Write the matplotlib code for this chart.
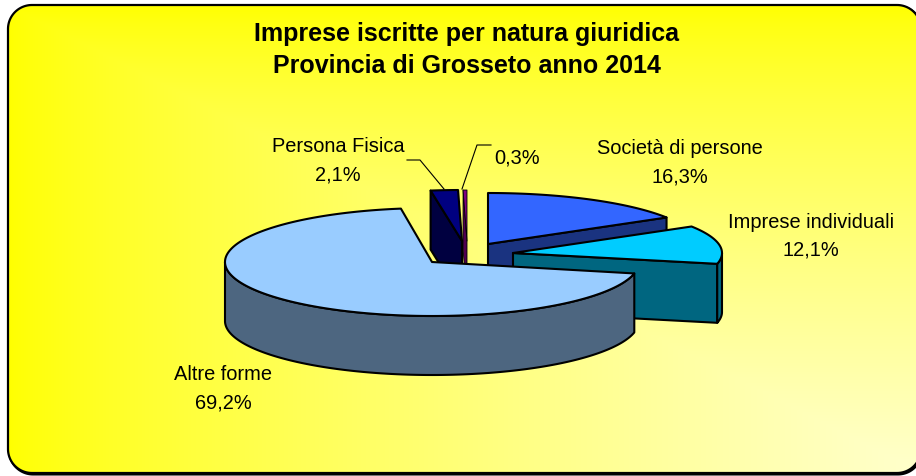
import numpy as np
import matplotlib
matplotlib.use('Agg')
import matplotlib.pyplot as plt
from matplotlib.patches import Polygon

plt.rcParams['font.family'] = ['Liberation Sans', 'DejaVu Sans']

# slices, clockwise from 12 o'clock
names = ['Società di persone', 'Imprese individuali', 'Altre forme', 'Persona Fisica', '']
shares = [16.3, 12.1, 69.2, 2.1, 0.3]
share_labels = ['16,3%', '12,1%', '69,2%', '2,1%', '0,3%']

top_colors = ['#3366FF', '#00CCFF', '#99CCFF', '#000080', '#800080']
side_colors = ['#1A3380', '#006680', '#4D6680', '#000040', '#500050']

# where each exploded slice sits, in pixels
apex_x = [488, 513, 432, 462, 467]
apex_y = [244, 253, 262, 241, 241]
radius_x = [209, 209, 207, 209, 209]
radius_y = [51, 51, 54, 51, 51]
edge_widths = [1.5, 1.5, 1.5, 1.5, 0.6]
depth = 59

label_x = [680, 811, 223, 338, 517]
label_y = [163, 236, 389, 161, 158]

fig = plt.figure(figsize=(9.16, 4.76), dpi=100)
ax = fig.add_axes([0, 0, 1, 1])
ax.set_xlim(0, 916)
ax.set_ylim(476, 0)
ax.axis('off')


def rounded(x0, y0, x1, y1, r):
    pts = []
    for cx, cy, a in ((x1 - r, y0 + r, 0), (x1 - r, y1 - r, 90), (x0 + r, y1 - r, 180), (x0 + r, y0 + r, 270)):
        b = np.radians(np.linspace(a, a + 90, 30))
        pts.append(np.c_[cx + r * np.sin(b), cy - r * np.cos(b)])
    return np.vstack(pts)


# background panel, gradient runs out from the top left corner
shadow = Polygon(rounded(9, 6, 922, 474.5, 24), closed=True, fc='black', ec='black', lw=1.5, zorder=2)
ax.add_patch(shadow)
frame = Polygon(rounded(8, 5, 921, 473, 24), closed=True, fc='none', ec='black', lw=1.6, zorder=4)
ax.add_patch(frame)
gx, gy = np.meshgrid(np.linspace(0, 1, 300), np.linspace(0, 1, 200))
t = np.minimum(gx, gy) ** 0.75
grad = np.dstack([np.ones_like(t), np.ones_like(t), 0.8 * t])
img = ax.imshow(grad, extent=(8, 921, 473, 5), aspect='auto', zorder=3)
img.set_clip_path(frame)
ax.set_xlim(0, 916)
ax.set_ylim(476, 0)


def rim(cx, cy, rx, ry, a0, a1, dy=0):
    a = np.radians(np.linspace(a0, a1, max(int(abs(a1 - a0)) * 2, 2)))
    return cx + rx * np.sin(a), cy - ry * np.cos(a) + dy


def fill(xs, ys, color, z, lw):
    ax.fill(xs, ys, fc=color, ec='black', lw=lw, joinstyle='round', zorder=z)


ends = np.cumsum(shares) * 3.6
starts = ends - np.array(shares) * 3.6

# back to front
for i in [4, 3, 0, 1, 2]:
    cx, cy, rx, ry = apex_x[i], apex_y[i], radius_x[i], radius_y[i]
    a0, a1 = starts[i], ends[i]
    z = 5 + [4, 3, 0, 1, 2].index(i)
    lw = edge_widths[i]
    # flat cut faces that look towards the viewer
    for a, show in ((a0, np.sin(np.radians(a0)) < 0), (a1, np.sin(np.radians(a1)) > 0)):
        if show:
            ex = cx + rx * np.sin(np.radians(a))
            ey = cy - ry * np.cos(np.radians(a))
            fill([cx, ex, ex, cx], [cy, ey, ey + depth, cy + depth], side_colors[i], z, lw)
    # outer wall, only where it faces front
    b0, b1 = max(a0, 90), min(a1, 270)
    if b1 > b0:
        x1, y1 = rim(cx, cy, rx, ry, b0, b1)
        x2, y2 = rim(cx, cy, rx, ry, b1, b0, depth)
        fill(np.r_[x1, x2], np.r_[y1, y2], side_colors[i], z, lw)
    x, y = rim(cx, cy, rx, ry, a0, a1)
    fill(np.r_[cx, x], np.r_[cy, y], top_colors[i], z, lw)

# leader lines
ax.plot([407, 420, 444], [160, 160, 189], color='black', lw=0.8, zorder=12)
ax.plot([491, 477, 462], [145, 145, 189], color='black', lw=0.8, zorder=12)

for i in range(5):
    txt = share_labels[i] if names[i] == '' else names[i] + '\n' + share_labels[i]
    ax.text(label_x[i], label_y[i], txt, ha='center', va='center', fontsize=14.4,
            linespacing=1.6, color='black', zorder=13)

ax.text(467, 50, 'Imprese iscritte per natura giuridica\nProvincia di Grosseto anno 2014',
        ha='center', va='center', fontsize=18, fontweight='bold', linespacing=1.45, zorder=13)

fig.savefig('out.png', dpi=100)
